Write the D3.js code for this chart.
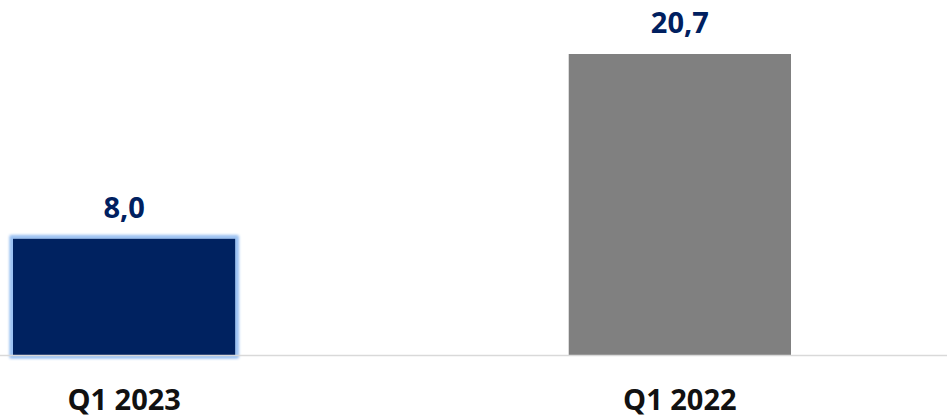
<!DOCTYPE html>
<html>
<head>
<meta charset="utf-8">
<script src="https://cdn.jsdelivr.net/npm/d3@7"></script>
<style>
  html, body { margin: 0; padding: 0; background: #ffffff; }
  svg { display: block; }
</style>
</head>
<body>
<script>
// Quarterly values
const categories = ["Q1 2023", "Q1 2022"];
const values = [8.0, 20.7];
const valueLabels = ["8,0", "20,7"];
const barColors = ["#002060", "#808080"];

const W = 947, H = 419;
const baseY = 355;

const svg = d3.select("body").append("svg")
  .attr("width", W).attr("height", H);

// soft light-blue outer glow for the highlighted bar
const defs = svg.append("defs");
const glow = defs.append("filter").attr("id", "glow")
  .attr("x", "-20%").attr("y", "-20%").attr("width", "140%").attr("height", "140%");
glow.append("feMorphology").attr("in", "SourceAlpha").attr("operator", "dilate")
  .attr("radius", 3).attr("result", "grown");
glow.append("feGaussianBlur").attr("in", "grown").attr("stdDeviation", 1.8).attr("result", "blurred");
glow.append("feFlood").attr("flood-color", "#9cc2f2").attr("result", "tint");
glow.append("feComposite").attr("in", "tint").attr("in2", "blurred").attr("operator", "in").attr("result", "halo");
const merge = glow.append("feMerge");
merge.append("feMergeNode").attr("in", "halo");
merge.append("feMergeNode").attr("in", "halo");
merge.append("feMergeNode").attr("in", "SourceGraphic");

const x = d3.scaleBand()
  .domain(categories)
  .range([13, 791])
  .paddingInner(0.6)
  .paddingOuter(0);

const y = d3.scaleLinear()
  .domain([0, 20.7])
  .range([baseY, 54]);

const data = categories.map((c, i) => ({ cat: c, v: values[i], label: valueLabels[i], color: barColors[i] }));

svg.selectAll("rect.bar")
  .data(data)
  .join("rect")
  .attr("class", "bar")
  .attr("x", d => x(d.cat))
  .attr("y", d => y(d.v))
  .attr("width", x.bandwidth())
  .attr("height", d => y(0) - y(d.v))
  .attr("fill", d => d.color)
  .attr("filter", (d, i) => i === 0 ? "url(#glow)" : null);

// baseline
svg.append("line")
  .attr("x1", 0).attr("x2", W)
  .attr("y1", baseY + 0.5).attr("y2", baseY + 0.5)
  .attr("stroke", "#d9d9d9").attr("stroke-width", 1.5);

// value labels
svg.selectAll("text.val")
  .data(data)
  .join("text")
  .attr("class", "val")
  .attr("x", d => x(d.cat) + x.bandwidth() / 2)
  .attr("y", d => y(d.v) - 21)
  .attr("text-anchor", "middle")
  .attr("font-family", "'Open Sans', sans-serif")
  .attr("font-weight", 700)
  .attr("font-size", 29)
  .attr("fill", "#002060")
  .text(d => d.label);

// category labels
const xAxis = d3.axisBottom(x).tickSize(0).tickPadding(0);
const gx = svg.append("g")
  .attr("transform", `translate(0,${baseY})`)
  .call(xAxis);
gx.select(".domain").remove();
gx.selectAll("text")
  .attr("dy", 0)
  .attr("y", 55)
  .attr("font-family", "'Open Sans', sans-serif")
  .attr("font-weight", 700)
  .attr("font-size", 29)
  .attr("fill", "#111111");
</script>
</body>
</html>
